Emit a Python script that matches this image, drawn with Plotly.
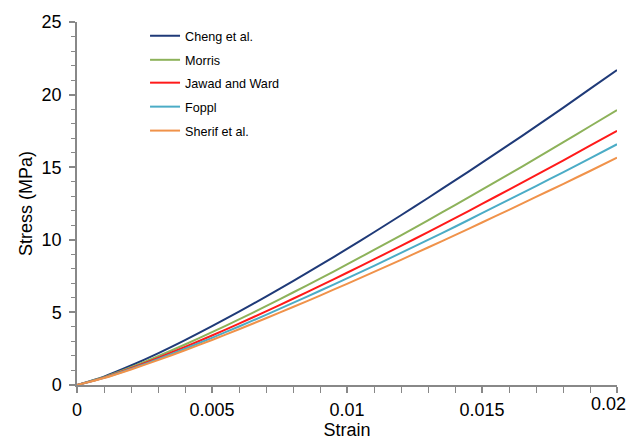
import plotly.graph_objects as go

strain = [0.000, 0.001, 0.002, 0.003, 0.004, 0.005, 0.006, 0.007, 0.008, 0.009, 0.010,
          0.011, 0.012, 0.013, 0.014, 0.015, 0.016, 0.017, 0.018, 0.019, 0.020]

cheng = [0, 0.58, 1.34, 2.18, 3.09, 4.05, 5.05, 6.09, 7.16, 8.25, 9.37,
         10.52, 11.69, 12.88, 14.09, 15.31, 16.55, 17.81, 19.09, 20.39, 21.69]
morris = [0, 0.54, 1.22, 1.98, 2.79, 3.64, 4.52, 5.43, 6.37, 7.32, 8.30,
          9.30, 10.31, 11.34, 12.39, 13.45, 14.52, 15.61, 16.71, 17.82, 18.94]
jawad = [0, 0.51, 1.16, 1.87, 2.62, 3.41, 4.23, 5.07, 5.94, 6.83, 7.73,
         8.65, 9.58, 10.53, 11.49, 12.47, 13.46, 14.45, 15.46, 16.48, 17.51]
foppl = [0, 0.49, 1.11, 1.78, 2.50, 3.25, 4.03, 4.83, 5.65, 6.49, 7.34,
         8.21, 9.10, 9.99, 10.90, 11.83, 12.76, 13.70, 14.65, 15.61, 16.58]
sherif = [0, 0.48, 1.07, 1.71, 2.39, 3.10, 3.84, 4.60, 5.37, 6.16, 6.97,
          7.79, 8.62, 9.47, 10.32, 11.19, 12.06, 12.95, 13.84, 14.74, 15.65]

series_names = ["Cheng et al.", "Morris", "Jawad and Ward", "Foppl", "Sherif et al."]
series_values = [cheng, morris, jawad, foppl, sherif]
series_colors = ["#1F3A78", "#8DB25A", "#FF1A1A", "#4BACC6", "#F0924A"]

x_tickvals = [0, 0.005, 0.01, 0.015, 0.02]
x_ticktext = ["0", "0.005", "0.01", "0.015", "0.02"]
y_tickvals = [0, 5, 10, 15, 20, 25]

# legend row positions (paper y) — layout only
legend_y = [0.961, 0.895, 0.832, 0.766, 0.700]

fig = go.Figure()
layout_legends = {}
for i, (name, vals, color) in enumerate(zip(series_names, series_values, series_colors)):
    key = "legend" if i == 0 else f"legend{i + 1}"
    fig.add_trace(go.Scatter(x=strain, y=vals, mode="lines", name=name,
                             line=dict(color=color, width=2, shape="spline", smoothing=0.8),
                             legend=key))
    layout_legends[key] = dict(x=0.126, y=legend_y[i], xanchor="left", yanchor="middle",
                               bgcolor="rgba(0,0,0,0)", borderwidth=0,
                               font=dict(size=12.6, color="black"), itemwidth=30)

# the last x tick label sits at the page edge; draw it right-aligned so it stays visible
axis_ticktext = x_ticktext[:-1] + [""]

axis_color = "#888888"
fig.update_layout(
    width=636, height=432,
    margin=dict(l=69, r=27, t=14, b=55),
    paper_bgcolor="white", plot_bgcolor="white",
    font=dict(family="Liberation Sans, Arial, sans-serif", color="black"),
    showlegend=True,
    **layout_legends,
)
fig.add_annotation(x=x_tickvals[-1], xref="x", y=0, yref="paper",
                   text=x_ticktext[-1], showarrow=False,
                   xanchor="right", yanchor="top", xshift=11, yshift=-7,
                   font=dict(size=18, color="black"))
fig.update_xaxes(
    range=[0, 0.02], tickvals=x_tickvals, ticktext=axis_ticktext, automargin=False,
    showgrid=False, zeroline=False, showline=True, linecolor=axis_color, linewidth=1.5,
    ticks="outside", ticklen=6, tickcolor=axis_color, tickwidth=1.5,
    minor=dict(dtick=0.001, ticks="outside", ticklen=6, tickcolor=axis_color, tickwidth=1),
    tickfont=dict(size=18), ticklabelstandoff=2,
    title=dict(text="Strain", font=dict(size=18), standoff=2),
)
fig.update_yaxes(
    range=[0, 25], tickvals=y_tickvals, automargin=False,
    showgrid=False, zeroline=False, showline=True, linecolor=axis_color, linewidth=1.5,
    ticks="outside", ticklen=6, tickcolor=axis_color, tickwidth=1.5,
    minor=dict(dtick=1, ticks="outside", ticklen=4, tickcolor=axis_color, tickwidth=1),
    tickfont=dict(size=18), ticklabelstandoff=4,
    title=dict(text="Stress (MPa)", font=dict(size=18), standoff=4),
)

fig.write_html("out.html")
